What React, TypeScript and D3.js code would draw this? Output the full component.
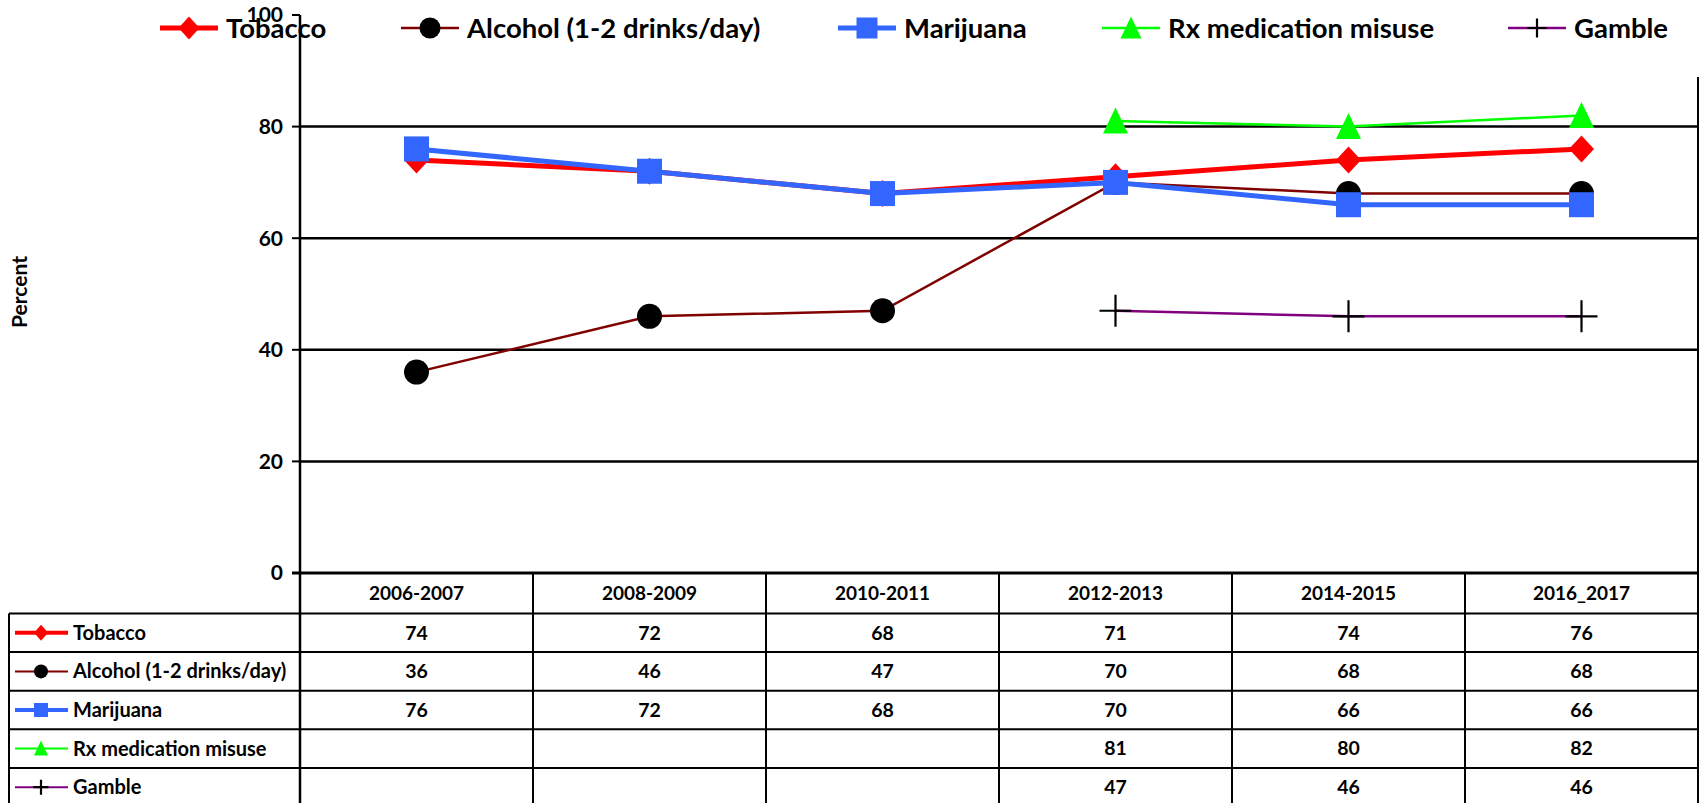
import React from "react"
import * as d3 from "d3"

const periods = ["2006-2007", "2008-2009", "2010-2011", "2012-2013", "2014-2015", "2016_2017"]
const tobacco = [74, 72, 68, 71, 74, 76]
const alcohol = [36, 46, 47, 70, 68, 68]
const marijuana = [76, 72, 68, 70, 66, 66]
const rxMisuse = [null, null, null, 81, 80, 82]
const gamble = [null, null, null, 47, 46, 46]
const yTicks = [0, 20, 40, 60, 80, 100]

type Shape = "diamond" | "circle" | "square" | "triangle" | "plus"

type Series = {
  name: string
  values: (number | null)[]
  color: string
  width: number
  shape: Shape
  markerFill: string
}

const series: Series[] = [
  { name: "Tobacco", values: tobacco, color: "#ff0000", width: 5, shape: "diamond", markerFill: "#ff0000" },
  { name: "Alcohol (1-2 drinks/day)", values: alcohol, color: "#800000", width: 2.5, shape: "circle", markerFill: "#000000" },
  { name: "Marijuana", values: marijuana, color: "#3366ff", width: 5, shape: "square", markerFill: "#3366ff" },
  { name: "Rx medication misuse", values: rxMisuse, color: "#00ff00", width: 2.5, shape: "triangle", markerFill: "#00ff00" },
  { name: "Gamble", values: gamble, color: "#800080", width: 2.5, shape: "plus", markerFill: "#000000" },
]

// legend start x for each series (line start)
const legendX = [160, 401, 838, 1102, 1508]

const FONT = "Lato, 'Liberation Sans', sans-serif"

const W = 1699
const H = 803
const plotLeft = 300
const plotRight = 1698
const yTop = 15
const yZero = 573
const headerH = 40.5
const rowH = 38.6
const tableLeft = 9

function Marker({ shape, fill, x, y, s }: { shape: Shape; fill: string; x: number; y: number; s: number }) {
  const h = s / 2
  if (shape === "circle") return <circle cx={x} cy={y} r={h} fill={fill} />
  if (shape === "square") return <rect x={x - h} y={y - h} width={s} height={s} fill={fill} />
  if (shape === "diamond")
    return <path d={`M${x},${y - h - 1}L${x + h},${y}L${x},${y + h + 1}L${x - h},${y}Z`} fill={fill} />
  if (shape === "triangle")
    return <path d={`M${x},${y - h - 1}L${x + h},${y + h}L${x - h},${y + h}Z`} fill={fill} />
  return (
    <path
      d={`M${x - h},${y}H${x + h}M${x},${y - h}V${y + h}`}
      stroke={fill}
      strokeWidth={2.2}
      fill="none"
    />
  )
}

export default function App() {
  const x = d3.scaleBand<string>().domain(periods).range([plotLeft, plotRight])
  const y = d3.scaleLinear().domain([0, 100]).range([yZero, yTop])
  const cx = (p: string) => (x(p) ?? 0) + x.bandwidth() / 2

  const line = d3
    .line<number | null>()
    .defined((d) => d != null)
    .x((_, i) => cx(periods[i]))
    .y((d) => y(d as number))

  const tableTop = yZero + headerH
  const colEdges = periods.map((p) => x(p) ?? 0).concat([plotRight])

  return (
    <svg
      width={W}
      height={H}
      style={{ position: "absolute", left: 0, top: 0, background: "#fff" }}
      fontFamily={FONT}
      fontWeight="bold"
    >
      {/* gridlines */}
      {yTicks
        .filter((t) => t > 0 && t < 100)
        .map((t) => (
          <line key={t} x1={plotLeft} x2={plotRight} y1={y(t)} y2={y(t)} stroke="#000" strokeWidth={2.5} />
        ))}
      <line x1={plotRight} x2={plotRight} y1={77} y2={H} stroke="#000" strokeWidth={2} />

      {/* legend */}
      {series.map((s, i) => (
        <g key={s.name}>
          <line x1={legendX[i]} x2={legendX[i] + 58} y1={28} y2={28} stroke={s.color} strokeWidth={s.width} />
          <Marker shape={s.shape} fill={s.markerFill} x={legendX[i] + 29} y={28} s={s.shape === "plus" ? 19 : 21} />
          <text x={legendX[i] + 66} y={38} fontSize={27.5} fill="#000">
            {s.name}
          </text>
        </g>
      ))}

      {/* y axis */}
      <line x1={plotLeft} x2={plotLeft} y1={yTop} y2={H} stroke="#000" strokeWidth={2.5} />
      {yTicks.map((t) => (
        <g key={t}>
          <line x1={plotLeft - 8} x2={plotLeft} y1={y(t)} y2={y(t)} stroke="#000" strokeWidth={2} />
          <text x={283} y={y(t)} dy="0.35em" textAnchor="end" fontSize={21} fill="#000">
            {t}
          </text>
        </g>
      ))}
      <text transform={`translate(27,292) rotate(-90)`} textAnchor="middle" fontSize={21} fill="#000">
        Percent
      </text>

      {/* series lines and markers */}
      {series.map((s) => (
        <g key={s.name}>
          <path d={line(s.values) ?? ""} fill="none" stroke={s.color} strokeWidth={s.width} />
          {s.values.map((v, i) =>
            v == null ? null : (
              <Marker
                key={i}
                shape={s.shape}
                fill={s.markerFill}
                x={cx(periods[i])}
                y={y(v)}
                s={s.shape === "plus" ? 32 : 25}
              />
            )
          )}
        </g>
      ))}

      {/* data table */}
      <line x1={plotLeft - 8} x2={plotRight} y1={yZero} y2={yZero} stroke="#000" strokeWidth={3} />
      {colEdges.map((ex, i) => (
        <line key={i} x1={ex} x2={ex} y1={yZero} y2={H} stroke="#000" strokeWidth={2} />
      ))}
      <line x1={tableLeft} x2={tableLeft} y1={tableTop} y2={H} stroke="#000" strokeWidth={2} />
      {series.map((s, r) => (
        <line
          key={s.name}
          x1={tableLeft}
          x2={plotRight}
          y1={tableTop + r * rowH}
          y2={tableTop + r * rowH}
          stroke="#000"
          strokeWidth={2}
        />
      ))}
      {periods.map((p) => (
        <text key={p} x={cx(p)} y={yZero + headerH / 2} dy="0.35em" textAnchor="middle" fontSize={19} fill="#000">
          {p}
        </text>
      ))}
      {series.map((s, r) => {
        const ry = tableTop + r * rowH + rowH / 2
        return (
          <g key={s.name}>
            <line x1={15} x2={68} y1={ry} y2={ry} stroke={s.color} strokeWidth={s.width * 0.8} />
            <Marker shape={s.shape} fill={s.markerFill} x={41} y={ry} s={s.shape === "plus" ? 15 : 14} />
            <text x={73} y={ry} dy="0.35em" fontSize={20} fill="#000">
              {s.name}
            </text>
            {s.values.map((v, i) =>
              v == null ? null : (
                <text key={i} x={cx(periods[i])} y={ry} dy="0.35em" textAnchor="middle" fontSize={19.5} fill="#000">
                  {v}
                </text>
              )
            )}
          </g>
        )
      })}
    </svg>
  )
}
